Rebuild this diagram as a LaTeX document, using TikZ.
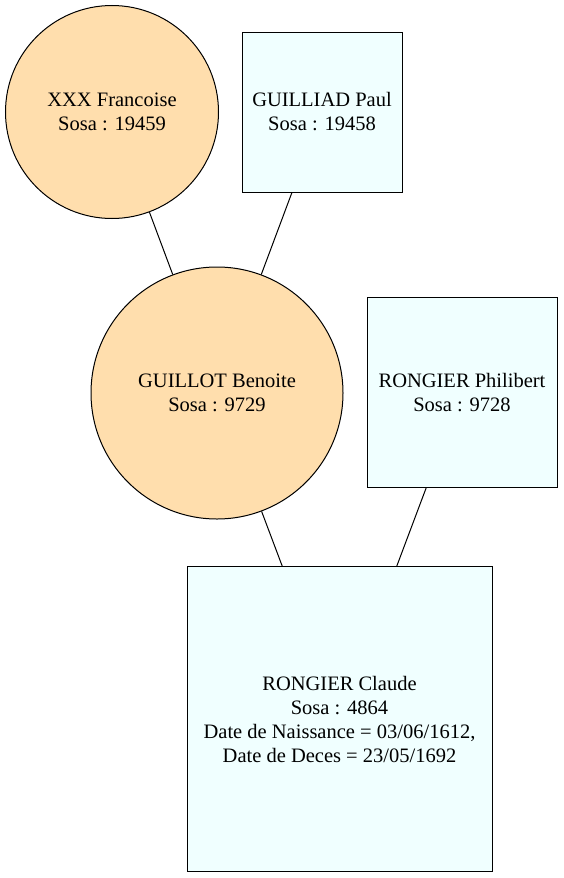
\documentclass[tikz,border=0pt]{standalone}
\usepackage{fontspec}
\setmainfont{LiberationSerif-Regular.ttf}
\definecolor{femmefill}{RGB}{255,222,173}
\definecolor{hommefill}{RGB}{240,255,255}
\begin{document}
\begin{tikzpicture}[x=1pt,y=1pt,
  femme/.style={circle,draw=black,fill=femmefill,line width=1pt,inner sep=0pt,align=center,font=\fontsize{20.5}{24}\selectfont},
  homme/.style={rectangle,draw=black,fill=hommefill,line width=1pt,inner sep=0pt,align=center,font=\fontsize{20.5}{24}\selectfont},
  lien/.style={draw=black,line width=1pt}]
  \useasboundingbox (0,0) rectangle (563,-878);

  \node[femme,minimum size=213] (francoise) at (112,-112) {XXX Francoise\\Sosa : 19459};
  \node[homme,minimum size=160] (paul) at (322,-112) {GUILLIAD Paul\\Sosa : 19458};

  \node[femme,minimum size=252] (benoite) at (217,-393) {GUILLOT Benoite\\Sosa : 9729};
  \node[homme,minimum size=190] (philibert) at (462,-392.5) {RONGIER Philibert\\Sosa : 9728};

  \node[homme,minimum size=305] (claude) at (339.5,-719.3) {RONGIER Claude\\Sosa : 4864\\Date de Naissance = 03/06/1612,\\Date de Deces = 23/05/1692};

  \draw[lien] (francoise) -- (benoite);
  \draw[lien] (paul) -- (benoite);
  \draw[lien] (benoite) -- (claude);
  \draw[lien] (philibert) -- (claude);

\end{tikzpicture}
\end{document}
